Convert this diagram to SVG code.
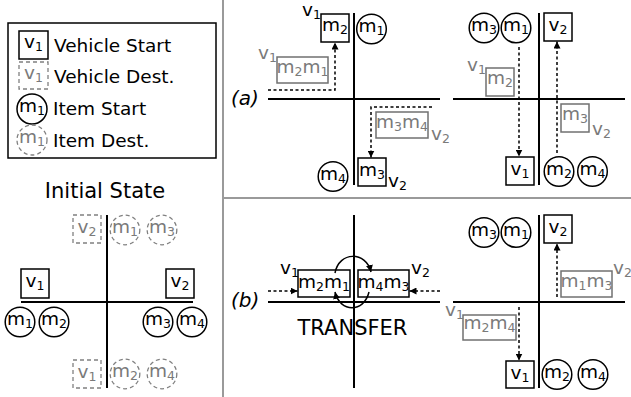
<svg xmlns="http://www.w3.org/2000/svg" width="631" height="397" viewBox="0 0 631 397">
<defs>
<marker id="ah" viewBox="0 0 10 10" refX="10" refY="5" markerWidth="7" markerHeight="7" markerUnits="userSpaceOnUse" orient="auto"><path d="M0,0 L10,5 L0,10 z" fill="#000"/></marker>
</defs>
<style>
text { font-family: "DejaVu Sans", sans-serif; font-size: 18.5px; fill: #000; }
text.g { fill: #7a7a7a; }
.sub { font-size: 12.5px; }
.big { font-size: 21px; }
.it { font-style: italic; font-size: 20px; }
.box { fill: none; stroke: #000; stroke-width: 1.5; }
.gbox { fill: none; stroke: #707070; stroke-width: 1.5; }
.dbox { fill: none; stroke: #808080; stroke-width: 1.3; stroke-dasharray: 4 3; }
.axis { stroke: #000; stroke-width: 2; }
.sep { stroke: #9a9a9a; stroke-width: 2; }
.dash { fill: none; stroke: #000; stroke-width: 1.5; stroke-dasharray: 3 2.5; marker-end: url(#ah); }
.curve { fill: none; stroke: #000; stroke-width: 1.5; marker-end: url(#ah); }
</style>
<rect width="631" height="397" fill="#fff"/>
<g id="separators">
<line class="sep" x1="223" y1="0" x2="223" y2="397"/>
<line class="sep" x1="223" y1="198" x2="631" y2="198"/>
</g>
<g id="legend">
<rect x="8" y="23" width="208" height="135" fill="none" stroke="#000" stroke-width="1.5"/>
<rect class="box" x="19" y="31" width="29" height="28"/>
<text x="33.5" y="48" text-anchor="middle">v<tspan class="sub" dy="3">1</tspan></text>
<text x="54" y="52">Vehicle Start</text>
<rect class="dbox" x="19" y="62" width="29" height="27"/>
<text class="g" x="33.5" y="79" text-anchor="middle">v<tspan class="sub" dy="3">1</tspan></text>
<text x="54" y="83">Vehicle Dest.</text>
<circle class="box" cx="32" cy="109" r="15"/>
<text x="32" y="112" text-anchor="middle">m<tspan class="sub" dy="3">1</tspan></text>
<text x="53" y="115">Item Start</text>
<circle class="dbox" cx="32" cy="140" r="15"/>
<text class="g" x="32" y="143" text-anchor="middle">m<tspan class="sub" dy="3">1</tspan></text>
<text x="53" y="147">Item Dest.</text>
</g>
<g id="initial-state">
<text class="big" x="105" y="198" text-anchor="middle">Initial State</text>
<line class="axis" x1="107" y1="215" x2="107" y2="388"/>
<line class="axis" x1="21" y1="302" x2="193" y2="302"/>
<g id="init-v1"><rect class="box" x="21" y="269" width="28" height="29"/><text x="35" y="287" text-anchor="middle">v<tspan class="sub" dy="3">1</tspan></text></g>
<g id="init-v2"><rect class="box" x="166" y="269" width="28" height="29"/><text x="180" y="287" text-anchor="middle">v<tspan class="sub" dy="3">2</tspan></text></g>
<g id="init-v2-dest"><rect class="dbox" x="73" y="215" width="28" height="28"/><text class="g" x="87" y="233" text-anchor="middle">v<tspan class="sub" dy="3">2</tspan></text></g>
<g id="init-v1-dest"><rect class="dbox" x="73" y="360" width="28" height="28"/><text class="g" x="87" y="378" text-anchor="middle">v<tspan class="sub" dy="3">1</tspan></text></g>
<g id="init-m1"><circle class="box" cx="20" cy="322" r="14.8"/><text x="20" y="325" text-anchor="middle">m<tspan class="sub" dy="3">1</tspan></text></g>
<g id="init-m2"><circle class="box" cx="54" cy="322" r="14.8"/><text x="54" y="325" text-anchor="middle">m<tspan class="sub" dy="3">2</tspan></text></g>
<g id="init-m3"><circle class="box" cx="158" cy="322" r="14.8"/><text x="158" y="325" text-anchor="middle">m<tspan class="sub" dy="3">3</tspan></text></g>
<g id="init-m4"><circle class="box" cx="192" cy="322" r="14.8"/><text x="192" y="325" text-anchor="middle">m<tspan class="sub" dy="3">4</tspan></text></g>
<g id="init-m1-dest"><circle class="dbox" cx="125" cy="230" r="14.8"/><text class="g" x="125" y="233" text-anchor="middle">m<tspan class="sub" dy="3">1</tspan></text></g>
<g id="init-m3-dest"><circle class="dbox" cx="162" cy="230" r="14.8"/><text class="g" x="162" y="233" text-anchor="middle">m<tspan class="sub" dy="3">3</tspan></text></g>
<g id="init-m2-dest"><circle class="dbox" cx="125" cy="374" r="14.8"/><text class="g" x="125" y="377" text-anchor="middle">m<tspan class="sub" dy="3">2</tspan></text></g>
<g id="init-m4-dest"><circle class="dbox" cx="162" cy="374" r="14.8"/><text class="g" x="162" y="377" text-anchor="middle">m<tspan class="sub" dy="3">4</tspan></text></g>
</g>
<g id="panel-a-left">
<text class="it" x="231" y="105">(a)</text>
<line class="axis" x1="354" y1="13" x2="354" y2="185"/>
<line class="axis" x1="268" y1="99" x2="440" y2="99"/>
<g id="a1-v1"><rect class="box" x="321" y="14" width="28" height="28"/><text x="335" y="31" text-anchor="middle">m<tspan class="sub" dy="3">2</tspan></text><text x="302" y="16">v<tspan class="sub" dy="3">1</tspan></text></g>
<g id="a1-m1"><circle class="box" cx="371.5" cy="29" r="14.8"/><text x="371.5" y="32" text-anchor="middle">m<tspan class="sub" dy="3">1</tspan></text></g>
<g id="a1-v1-load"><rect class="gbox" x="277" y="57" width="51" height="26"/><text class="g" x="302.5" y="73" text-anchor="middle">m<tspan class="sub" dy="3">2</tspan><tspan dy="-3">m</tspan><tspan class="sub" dy="3">1</tspan></text><text class="g" x="258" y="59">v<tspan class="sub" dy="3">1</tspan></text></g>
<g id="a1-v2-load"><rect class="gbox" x="376" y="112" width="52" height="26"/><text class="g" x="402" y="128" text-anchor="middle">m<tspan class="sub" dy="3">3</tspan><tspan dy="-3">m</tspan><tspan class="sub" dy="3">4</tspan></text><text class="g" x="431" y="140">v<tspan class="sub" dy="3">2</tspan></text></g>
<g id="a1-v2"><rect class="box" x="358" y="158" width="28" height="28"/><text x="372" y="176" text-anchor="middle">m<tspan class="sub" dy="3">3</tspan></text><text x="388" y="187">v<tspan class="sub" dy="3">2</tspan></text></g>
<g id="a1-m4"><circle class="box" cx="333" cy="176.5" r="14.8"/><text x="333" y="179.5" text-anchor="middle">m<tspan class="sub" dy="3">4</tspan></text></g>
</g>
<g id="panel-a-right">
<line class="axis" x1="539" y1="13" x2="539" y2="185"/>
<line class="axis" x1="453" y1="99" x2="625" y2="99"/>
<g id="a2-m3"><circle class="box" cx="484" cy="28" r="14.8"/><text x="484" y="31" text-anchor="middle">m<tspan class="sub" dy="3">3</tspan></text></g>
<g id="a2-m1"><circle class="box" cx="516" cy="28" r="14.8"/><text x="516" y="31" text-anchor="middle">m<tspan class="sub" dy="3">1</tspan></text></g>
<g id="a2-v2"><rect class="box" x="544" y="13" width="28" height="28"/><text x="558" y="31" text-anchor="middle">v<tspan class="sub" dy="3">2</tspan></text></g>
<g id="a2-v1-load"><rect class="gbox" x="486" y="68" width="28" height="28"/><text class="g" x="500" y="84" text-anchor="middle">m<tspan class="sub" dy="3">2</tspan></text><text class="g" x="467" y="70.5">v<tspan class="sub" dy="3">1</tspan></text></g>
<g id="a2-v2-load"><rect class="gbox" x="561" y="104" width="28" height="28"/><text class="g" x="575" y="120" text-anchor="middle">m<tspan class="sub" dy="3">3</tspan></text><text class="g" x="592" y="135">v<tspan class="sub" dy="3">2</tspan></text></g>
<g id="a2-v1"><rect class="box" x="506" y="157" width="28" height="28"/><text x="520" y="175" text-anchor="middle">v<tspan class="sub" dy="3">1</tspan></text></g>
<g id="a2-m2"><circle class="box" cx="559" cy="171.5" r="14.8"/><text x="559" y="174.5" text-anchor="middle">m<tspan class="sub" dy="3">2</tspan></text></g>
<g id="a2-m4"><circle class="box" cx="592.5" cy="171.5" r="14.8"/><text x="592.5" y="174.5" text-anchor="middle">m<tspan class="sub" dy="3">4</tspan></text></g>
</g>
<g id="panel-b-left">
<text class="it" x="231" y="307">(b)</text>
<line class="axis" x1="354" y1="215" x2="354" y2="388"/>
<line class="axis" x1="268" y1="302" x2="440" y2="302"/>
<g id="b1-v1"><rect class="box" x="298" y="270" width="52" height="27"/><text x="324" y="287.5" text-anchor="middle">m<tspan class="sub" dy="3">2</tspan><tspan dy="-3">m</tspan><tspan class="sub" dy="3">1</tspan></text><text x="280" y="274">v<tspan class="sub" dy="3">1</tspan></text></g>
<g id="b1-v2"><rect class="box" x="358" y="270" width="51" height="27"/><text x="383.5" y="287.5" text-anchor="middle">m<tspan class="sub" dy="3">4</tspan><tspan dy="-3">m</tspan><tspan class="sub" dy="3">3</tspan></text><text x="411" y="274">v<tspan class="sub" dy="3">2</tspan></text></g>
<text class="big" x="352.5" y="335" text-anchor="middle">TRANSFER</text>
</g>
<g id="panel-b-right">
<line class="axis" x1="539" y1="215" x2="539" y2="388"/>
<line class="axis" x1="453" y1="302" x2="625" y2="302"/>
<g id="b2-m3"><circle class="box" cx="484" cy="232.5" r="14.8"/><text x="484" y="235.5" text-anchor="middle">m<tspan class="sub" dy="3">3</tspan></text></g>
<g id="b2-m1"><circle class="box" cx="516" cy="232.5" r="14.8"/><text x="516" y="235.5" text-anchor="middle">m<tspan class="sub" dy="3">1</tspan></text></g>
<g id="b2-v2"><rect class="box" x="544" y="215" width="28" height="28"/><text x="558" y="233" text-anchor="middle">v<tspan class="sub" dy="3">2</tspan></text></g>
<g id="b2-v2-load"><rect class="gbox" x="561" y="271" width="51" height="26"/><text class="g" x="586.5" y="287" text-anchor="middle">m<tspan class="sub" dy="3">1</tspan><tspan dy="-3">m</tspan><tspan class="sub" dy="3">3</tspan></text><text class="g" x="613" y="274">v<tspan class="sub" dy="3">2</tspan></text></g>
<g id="b2-v1-load"><rect class="gbox" x="463" y="315" width="53" height="25"/><text class="g" x="489.5" y="329" text-anchor="middle">m<tspan class="sub" dy="3">2</tspan><tspan dy="-3">m</tspan><tspan class="sub" dy="3">4</tspan></text><text class="g" x="445" y="316">v<tspan class="sub" dy="3">1</tspan></text></g>
<g id="b2-v1"><rect class="box" x="506" y="361" width="28" height="27"/><text x="520" y="378.5" text-anchor="middle">v<tspan class="sub" dy="3">1</tspan></text></g>
<g id="b2-m2"><circle class="box" cx="557" cy="374.5" r="14.8"/><text x="557" y="377.5" text-anchor="middle">m<tspan class="sub" dy="3">2</tspan></text></g>
<g id="b2-m4"><circle class="box" cx="593" cy="374.5" r="14.8"/><text x="593" y="377.5" text-anchor="middle">m<tspan class="sub" dy="3">4</tspan></text></g>
</g>
<g id="connectors">
<path class="dash" d="M268 90 H335 V42.5"/>
<path class="dash" d="M432 107 H371 V157.5"/>
<path class="dash" d="M519 47 V156.5"/>
<path class="dash" d="M557 153 V41.5"/>
<path class="dash" d="M268 291 H297.5"/>
<path class="dash" d="M440 291 H409.5"/>
<path class="curve" d="M335 273 C339 251 366 251 371 272"/>
<path class="curve" d="M369 292 C364 313 340 313 335 292"/>
<path class="dash" d="M557 297 V243.5"/>
<path class="dash" d="M519 307 V360.5"/>
</g>
</svg>
